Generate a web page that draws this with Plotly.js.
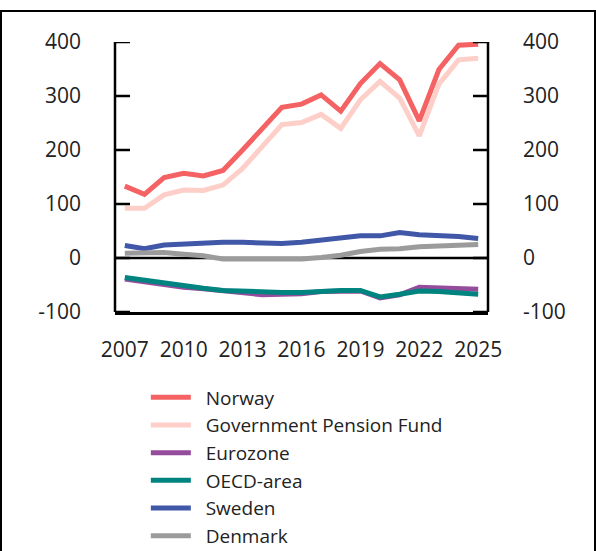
<!DOCTYPE html>
<html>
<head>
<meta charset="utf-8">
<script src="https://cdn.plot.ly/plotly-3.0.1.min.js"></script>
<style>
  body { margin: 0; background: #fff; }
  #chart { position: absolute; left: 0; top: 0; width: 596px; height: 551px; }
  #frame { position: absolute; left: 0; top: 10px; width: 596px; height: 560px;
           border: 2px solid #000; border-bottom: none; box-sizing: border-box; pointer-events: none; }
</style>
</head>
<body>
<div id="chart"></div>
<div id="frame"></div>
<script>
// years on the x axis
const years = [2007, 2008, 2009, 2010, 2011, 2012, 2013, 2014, 2015, 2016,
               2017, 2018, 2019, 2020, 2021, 2022, 2023, 2024, 2025];

const norway  = [133, 118, 149, 157, 152, 162, 200, 239, 279, 285, 302, 272, 323, 360, 330, 254, 349, 394, 396];
const pension = [92, 92, 117, 126, 125, 135, 166, 206, 247, 251, 266, 240, 293, 327, 296, 226, 322, 367, 370];
const eurozone = [-39, -44, -50, -54, -57, -61, -64, -68, -67, -66, -62, -61, -61, -74, -68, -54, -56, -57, -58];
const oecd    = [-36, -41, -48, -53, -56, -60, -62, -64, -64, -64, -61, -60, -60, -72, -67, -61, -62, -64, -67];
const sweden  = [23, 17, 24, 26, 27, 29, 29, 28, 27, 29, 33, 35, 41, 41, 47, 43, 42, 40, 36];
const denmark = [9, 10, 10, 7, 4, -2, -3, -2, -2, -2, 1, 5, 12, 16, 17, 21, 22, 24, 25];

const yTicks = [-100, 0, 100, 200, 300, 400];
const xTicks = [2007, 2010, 2013, 2016, 2019, 2022, 2025];

const pad = '\u00a0\u00a0';

function line (name, y, color) {
  return {
    type: 'scatter',
    mode: 'lines',
    x: years,
    y: y,
    name: pad + name,
    line: { color: color, width: 5 }
  };
}

// invisible copies so the label-only axes get drawn
function ghost (axis) {
  return {
    type: 'scatter', mode: 'lines', x: years, y: norway, yaxis: axis,
    line: { width: 0 }, opacity: 0, showlegend: false, hoverinfo: 'skip'
  };
}

const data = [
  line('Norway', norway, '#f46264'),
  line('Government Pension Fund', pension, '#fdcfc8'),
  line('Eurozone', eurozone, '#964c9c'),
  line('OECD-area', oecd, '#00847f'),
  line('Sweden', sweden, '#4157a7'),
  line('Denmark', denmark, '#9b9b9b'),
  ghost('y2'),
  ghost('y3')
];

const tickFont = { family: 'Open Sans, Noto Sans, sans-serif', size: 21, color: '#222' };
const legendFont = { family: 'Open Sans, Noto Sans, sans-serif', size: 19, color: '#222' };
const black = { color: '#000', width: 2.5 };

const xDomain = [0.0771, 0.9229];
const tickLen = 0.034; // in paper units, about 15px

// frame lines and inward ticks on both sides (paper refs so nothing is clipped)
const frameShapes = [
  { type: 'line', xref: 'paper', x0: xDomain[0], x1: xDomain[0], yref: 'y domain', y0: 0, y1: 1, line: black },
  { type: 'line', xref: 'paper', x0: xDomain[1], x1: xDomain[1], yref: 'y domain', y0: 0, y1: 1, line: black },
  { type: 'line', xref: 'x domain', x0: 0, x1: 1, yref: 'y', y0: 0, y1: 0, line: black, layer: 'below' }
];
const tickShapes = [];
yTicks.forEach((v) => {
  tickShapes.push({ type: 'line', xref: 'paper', x0: xDomain[0], x1: xDomain[0] + tickLen, yref: 'y', y0: v, y1: v, line: black });
  tickShapes.push({ type: 'line', xref: 'paper', x0: xDomain[1] - tickLen, x1: xDomain[1], yref: 'y', y0: v, y1: v, line: black });
});

// label-only axes, set a little away from the plot edges
const labelAxis = {
  range: [-100, 400],
  tickvals: yTicks,
  ticktext: yTicks.map(String),
  ticks: '',
  showline: false,
  showgrid: false,
  zeroline: false,
  tickfont: tickFont,
  overlaying: 'y',
  anchor: 'free',
  fixedrange: true
};

const layout = {
  width: 596,
  height: 551,
  margin: { l: 81, r: 74, t: 42, b: 239, autoexpand: false },
  paper_bgcolor: '#fff',
  plot_bgcolor: '#fff',
  font: tickFont,
  showlegend: true,
  legend: {
    x: 0.147, y: -0.246, xanchor: 'left', yanchor: 'top',
    font: legendFont,
    itemwidth: 40,
    tracegroupgap: 0,
    bgcolor: 'rgba(0,0,0,0)'
  },
  xaxis: {
    domain: xDomain,
    range: [2006.5, 2025.5],
    tickvals: xTicks,
    ticks: '',
    showline: true,
    linecolor: '#000',
    linewidth: 2.5,
    showgrid: false,
    zeroline: false,
    ticklabelstandoff: 17,
    tickfont: tickFont,
    fixedrange: true
  },
  yaxis: {
    range: [-100, 400],
    tickvals: yTicks,
    ticks: '',
    showline: false,
    showticklabels: false,
    showgrid: false,
    zeroline: false,
    fixedrange: true
  },
  yaxis2: Object.assign({}, labelAxis, { side: 'left', position: 0 }),
  yaxis3: Object.assign({}, labelAxis, { side: 'right', position: 1 }),
  shapes: frameShapes.concat(tickShapes)
};

Plotly.newPlot('chart', data, layout, { displayModeBar: false, staticPlot: true });
</script>
</body>
</html>
